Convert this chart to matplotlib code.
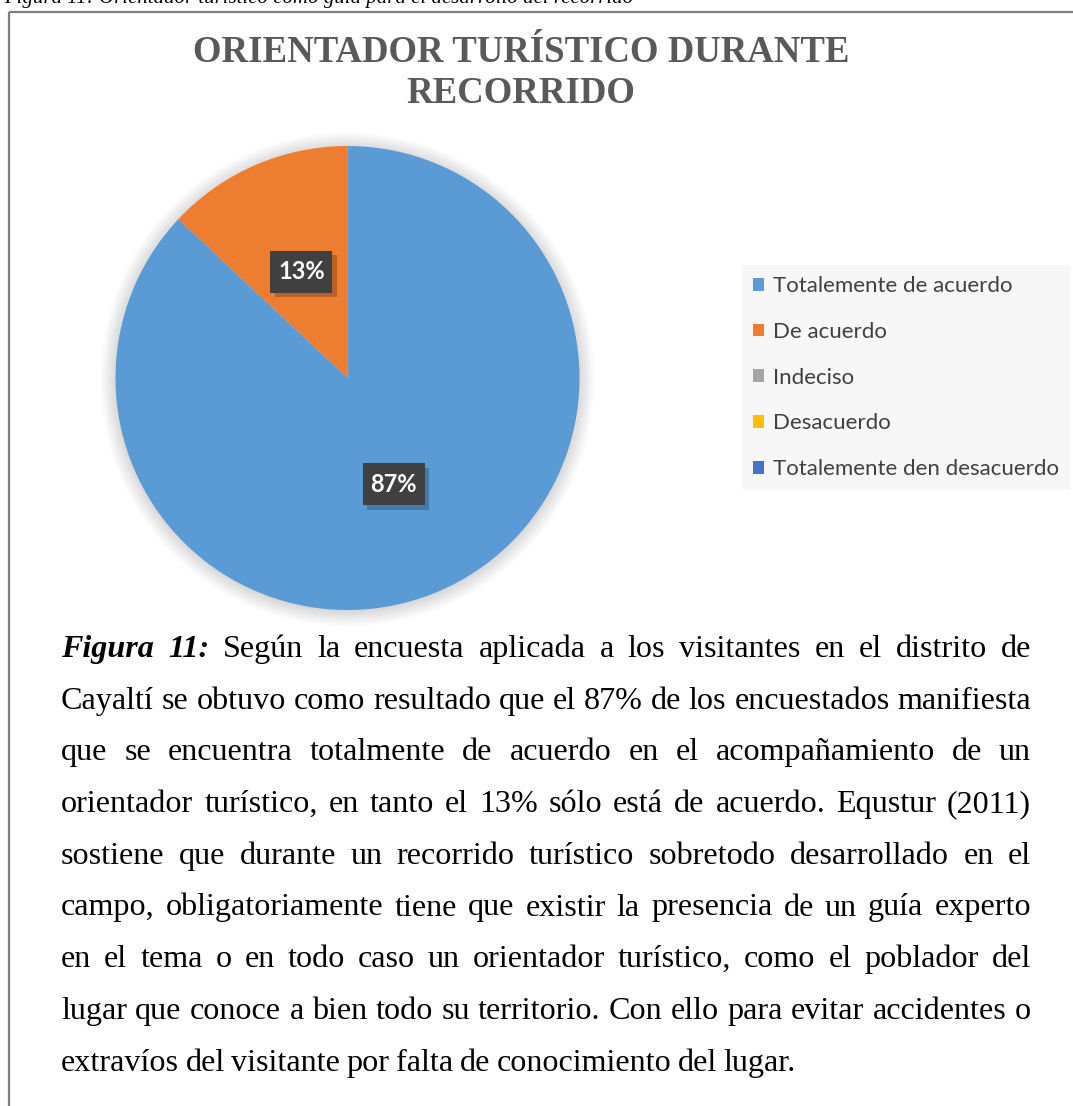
import matplotlib
matplotlib.use('Agg')
import matplotlib.pyplot as plt
import matplotlib.patheffects as pe
from matplotlib.patches import Circle, Rectangle

# datos del grafico
categorias = ['Totalemente de acuerdo', 'De acuerdo', 'Indeciso', 'Desacuerdo',
              'Totalemente den desacuerdo']
porcentajes = [87, 13, 0, 0, 0]
colores = ['#5B9BD5', '#ED7D31', '#A5A5A5', '#FFC000', '#4472C4']
titulo = 'ORIENTADOR TURÍSTICO DURANTE\nRECORRIDO'
rotulo_sup = 'Figura 11: Orientador turístico como guía para el desarrollo del recorrido'

# texto de la figura (cada linea como en el documento)
lineas = [
    'Figura 11: Según la encuesta aplicada a los visitantes en el distrito de',
    'Cayaltí se obtuvo como resultado que el 87% de los encuestados manifiesta',
    'que se encuentra totalmente de acuerdo en el acompañamiento de un',
    'orientador turístico, en tanto el 13%  sólo está de acuerdo. Equstur (2011)',
    'sostiene que durante un recorrido turístico sobretodo desarrollado en el',
    'campo, obligatoriamente tiene que existir la presencia de un guía experto',
    'en el tema o en todo caso un orientador turístico, como el poblador del',
    'lugar que conoce a bien todo su territorio. Con ello para evitar accidentes o',
    'extravíos del visitante por falta de conocimiento del lugar.',
]

W, H = 1073, 1106
fig = plt.figure(figsize=(W / 100, H / 100), dpi=100)
fig.patch.set_facecolor('white')

# ejes de fondo en pixeles
bg = fig.add_axes([0, 0, 1, 1])
bg.set_xlim(0, W)
bg.set_ylim(H, 0)
bg.axis('off')

# marco del grafico
bg.plot([9, 9], [12, H], color='#7F7F7F', lw=1.6, solid_capstyle='butt')
bg.plot([9, W], [12, 12], color='#7F7F7F', lw=1.6, solid_capstyle='butt')

# rotulo cortado arriba (solo se ve la parte baja)
bg.text(4, 3.0, rotulo_sup, fontsize=15, style='italic', family='Liberation Serif',
        va='baseline', ha='left', color='black')

# titulo
bg.text(521, 73, titulo, fontsize=26.5, fontweight='bold', family='Liberation Serif',
        color='#595959', ha='center', va='center', linespacing=1.2)

# pastel
ax = fig.add_axes([115.5 / W, (H - 610) / H, 464 / W, 464 / H])
for k in range(8):
    ax.add_patch(Circle((0, -0.006), 1.0 + 0.009 * k, color='black', alpha=0.02,
                        zorder=0, clip_on=False, lw=0))

wedges, textos, pcts = ax.pie(
    porcentajes, colors=colores, startangle=90, counterclock=False, radius=1,
    autopct=lambda p: f'{p:.0f}%' if p > 0.5 else '', pctdistance=0.5,
    wedgeprops=dict(linewidth=0, zorder=2),
    textprops=dict(color='white', fontsize=17, fontweight='bold', family='Lato'))
ax.set_xlim(-1, 1)
ax.set_ylim(-1, 1)
ax.set_aspect('equal')

u = 2 / 464  # unidades del eje por pixel
bw, bh = 62 * u, 42 * u
for t in pcts:
    if t.get_text():
        t.set_zorder(6)
        cx, cy = t.get_position()
        caja = Rectangle((cx - bw / 2, cy - bh / 2), bw, bh, fc='#404040', ec='none', zorder=5)
        caja.set_path_effects([
            pe.SimplePatchShadow(offset=(3, -3), shadow_rgbFace='black', alpha=0.22),
            pe.Normal()])
        ax.add_patch(caja)

leg = ax.legend(wedges, categorias, loc='upper left',
                bbox_to_anchor=(742 / W, 1 - 265 / H), bbox_transform=fig.transFigure,
                frameon=True, fancybox=False, facecolor='#F7F7F7', edgecolor='none',
                framealpha=1, prop=dict(family='Lato', size=16), labelcolor='#404040',
                handlelength=0.5, handleheight=0.5, handletextpad=0.4,
                labelspacing=1.16, borderpad=0.5, borderaxespad=0)

# texto justificado
r = fig.canvas.get_renderer()
x0, x1 = 61, 1031
y0, dy = 657, 51.7
estilo = dict(fontsize=23.1, family='Liberation Serif', color='black', va='baseline', ha='left')
for i, linea in enumerate(lineas):
    palabras = linea.split()
    objs = []
    for j, w in enumerate(palabras):
        extra = {}
        if i == 0 and j < 2:
            extra = dict(fontweight='bold', style='italic')
        objs.append(bg.text(0, y0 + i * dy, w, **estilo, **extra))
    anchos = [t.get_window_extent(r).width for t in objs]
    if i < len(lineas) - 1:
        hueco = (x1 - x0 - sum(anchos)) / (len(objs) - 1)
    else:
        hueco = 6.5
    x = x0
    for t, a in zip(objs, anchos):
        t.set_x(x)
        x += a + hueco

fig.savefig('out.png', dpi=100)
